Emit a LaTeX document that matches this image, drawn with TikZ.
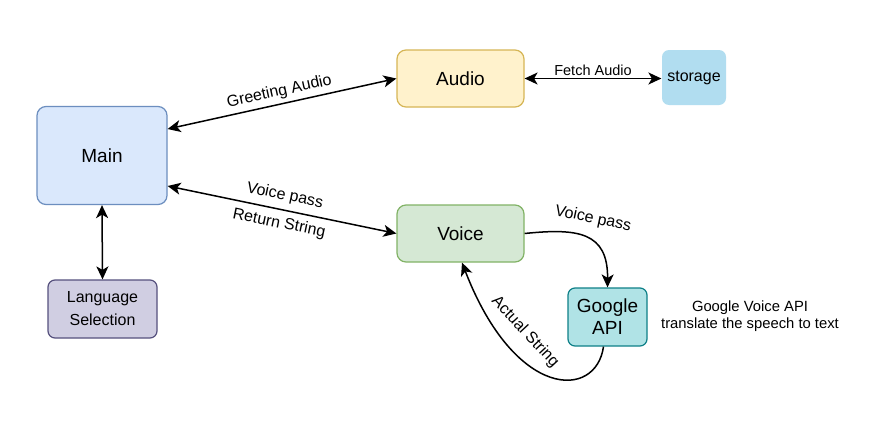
\documentclass[tikz,border=0pt]{standalone}
\usepackage{fontspec}
\setmainfont{Liberation Sans}
\usetikzlibrary{arrows.meta}
\definecolor{mainfill}{HTML}{DAE8FC}\definecolor{maindraw}{HTML}{6C8EBF}
\definecolor{audfill}{HTML}{FFF2CC}\definecolor{auddraw}{HTML}{D6B656}
\definecolor{vocfill}{HTML}{D5E8D4}\definecolor{vocdraw}{HTML}{82B366}
\definecolor{lanfill}{HTML}{D0CEE2}\definecolor{landraw}{HTML}{56517E}
\definecolor{goofill}{HTML}{B0E3E6}\definecolor{goodraw}{HTML}{0E8088}
\definecolor{stofill}{HTML}{B1DDF0}
\tikzset{
  box/.style={rectangle, rounded corners=9pt, line width=1.2pt, align=center, inner sep=0pt},
  bigtxt/.style={font=\fontsize{19}{22}\selectfont},
  midtxt/.style={font=\fontsize{16}{19}\selectfont},
  lbl/.style={font=\fontsize{16}{19}\selectfont, inner sep=2pt},
  tip/.tip={Stealth[length=13pt,width=12pt,inset=3.5pt]},
  conn/.style={line width=1.5pt, black, -tip},
  bconn/.style={line width=1.5pt, black, tip-tip}
}
\begin{document}
\begin{tikzpicture}[x=1pt,y=-1pt]
\fill[white] (0,0) rectangle (875,431);
\useasboundingbox (0,0) rectangle (875,431);
\node[box, bigtxt, fill=mainfill, draw=maindraw, minimum width=130pt, minimum height=98pt] (main) at (102,155.5) {Main};
\node[box, bigtxt, fill=audfill, draw=auddraw, minimum width=127pt, minimum height=57pt] (audio) at (460.5,78.5) {Audio};
\node[box, midtxt, fill=stofill, draw=none, minimum width=64pt, minimum height=55pt, rounded corners=7pt] (storage) at (694,77.5) {storage};
\node[box, bigtxt, fill=vocfill, draw=vocdraw, minimum width=127pt, minimum height=57pt] (voice) at (460.5,233.5) {Voice};
\node[box, midtxt, fill=lanfill, draw=landraw, minimum width=109pt, minimum height=58pt, rounded corners=7pt] (lang) at (102.5,309) {Language\\[4pt]Selection};
\node[box, bigtxt, fill=goofill, draw=goodraw, minimum width=79pt, minimum height=58pt, rounded corners=7pt] (google) at (607.5,317) {Google\\API};
\node[font=\fontsize{14.8}{17}\selectfont, align=center] (note) at (750,316) {Google Voice API\\translate the speech to text};

\draw[bconn] ([yshift=26.5pt]main.east) -- (audio.west)
  node[midway, sloped, above=2pt, lbl] {Greeting Audio};
\draw[bconn] ([yshift=-30.5pt]main.east) -- (voice.west)
  node[midway, sloped, above=4pt, lbl] {Voice pass}
  node[midway, sloped, below=4pt, lbl] {Return String};
\draw[bconn] (audio.east) -- (audio.east -| storage.west)
  node[midway, above, font=\fontsize{14.5}{17}\selectfont, inner sep=2pt] {Fetch Audio};
\draw[bconn] (main.south) -- (lang.north);
\draw[conn] (voice.east) .. controls (578,228) and (608,232) .. (google.north);
\node[lbl, rotate=-12] (vplbl) at (593,219) {Voice pass};
\draw[conn] ([xshift=-4pt]google.south) .. controls (596,400) and (515,400) .. ([xshift=1.5pt]voice.south);
\node[lbl, rotate=-47] (aslbl) at (525,332) {Actual String};
\end{tikzpicture}
\end{document}
